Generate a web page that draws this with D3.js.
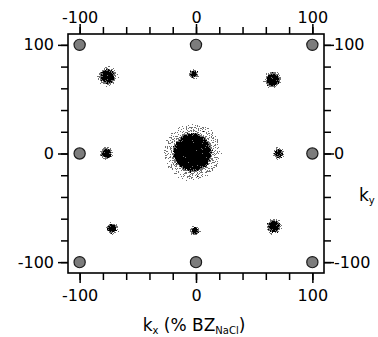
<!DOCTYPE html>
<html>
<head>
<meta charset="utf-8">
<script src="https://cdn.jsdelivr.net/npm/d3@7"></script>
<style>
  body { margin: 0; background: #fff; }
  svg { display: block; }
</style>
</head>
<body>
<div id="chart"></div>
<script>
const width = 378
const height = 337

const majorTicks = [-100, 0, 100]
const minorTicks = [-100, -80, -60, -40, -20, 0, 20, 40, 60, 80, 100]

// reference lattice points (gray circles)
const latticeKx = [-100, 0, 100, -100, 100, -100, 0, 100]
const latticeKy = [100, 100, 100, 0, 0, -100, -100, -100]

// measured intensity spots: position and core radius, all in % BZ
const spotKx = [-76, -2, 66, -77, 71, -72, -1, 67, -3]
const spotKy = [71, 73, 68, 0, 0, -69, -71, -67, 1]
const spotR = [6, 3.2, 5.5, 4.2, 3.6, 3.8, 3.2, 5, 16]

const margin = { top: 34, right: 54, bottom: 64, left: 68 }
const x = d3.scaleLinear().domain([-110, 110]).range([margin.left, width - margin.right])
const y = d3.scaleLinear().domain([-110, 110]).range([height - margin.bottom, margin.top])
const px = (r) => x(r) - x(0)

const svg = d3
  .select('#chart')
  .append('svg')
  .attr('width', width)
  .attr('height', height)
  .attr('font-family', 'DejaVu Sans, sans-serif')

const defs = svg.append('defs')
const f = defs
  .append('filter')
  .attr('id', 'speckle')
  .attr('filterUnits', 'userSpaceOnUse')
  .attr('x', 0)
  .attr('y', 0)
  .attr('width', width)
  .attr('height', height)
f.append('feGaussianBlur').attr('in', 'SourceGraphic').attr('stdDeviation', 1.5).attr('result', 'blur')
f.append('feTurbulence')
  .attr('type', 'fractalNoise')
  .attr('baseFrequency', 0.8)
  .attr('numOctaves', 2)
  .attr('seed', 7)
  .attr('result', 'noise')
f.append('feColorMatrix')
  .attr('in', 'noise')
  .attr('type', 'matrix')
  .attr('values', '0 0 0 0 0  0 0 0 0 0  0 0 0 0 0  1.6 0 0 0 -0.3')
  .attr('result', 'noiseA')
f.append('feComposite')
  .attr('in', 'blur')
  .attr('in2', 'noiseA')
  .attr('operator', 'arithmetic')
  .attr('k1', 0)
  .attr('k2', 1)
  .attr('k3', 0.7)
  .attr('k4', -0.35)
  .attr('result', 'sum')
f.append('feComponentTransfer')
  .attr('in', 'sum')
  .append('feFuncA')
  .attr('type', 'discrete')
  .attr('tableValues', '0 0 0.55 1')

const spots = spotKx.map((kx, i) => ({ kx, ky: spotKy[i], r: spotR[i] }))
const lattice = latticeKx.map((kx, i) => ({ kx, ky: latticeKy[i] }))

const spotG = svg.append('g').attr('filter', 'url(#speckle)')
spotG
  .selectAll('circle.halo')
  .data(spots)
  .join('circle')
  .attr('class', 'halo')
  .attr('cx', (d) => x(d.kx))
  .attr('cy', (d) => y(d.ky))
  .attr('r', (d) => px(d.r) * 1.6)
  .attr('fill', '#000')
  .attr('fill-opacity', 0.42)
spotG
  .selectAll('circle.core')
  .data(spots)
  .join('circle')
  .attr('class', 'core')
  .attr('cx', (d) => x(d.kx))
  .attr('cy', (d) => y(d.ky))
  .attr('r', (d) => px(d.r))
  .attr('fill', '#000')

svg
  .append('g')
  .selectAll('circle')
  .data(lattice)
  .join('circle')
  .attr('cx', (d) => x(d.kx))
  .attr('cy', (d) => y(d.ky))
  .attr('r', 5.6)
  .attr('fill', '#7c7c7c')
  .attr('stroke', '#1a1a1a')
  .attr('stroke-width', 1.2)

const fmt = (d) => String(d)
const axes = [
  { make: d3.axisTop, scale: x, at: `translate(0,${margin.top})`, pad: 1 },
  { make: d3.axisBottom, scale: x, at: `translate(0,${height - margin.bottom})`, pad: 7 },
  { make: d3.axisLeft, scale: y, at: `translate(${margin.left},0)`, pad: 4 },
  { make: d3.axisRight, scale: y, at: `translate(${width - margin.right},0)`, pad: 0 },
]

axes.forEach((a) => {
  const minor = svg
    .append('g')
    .attr('transform', a.at)
    .call(a.make(a.scale).tickValues(minorTicks).tickSize(7).tickSizeOuter(0).tickFormat(''))
  const major = svg
    .append('g')
    .attr('transform', a.at)
    .call(a.make(a.scale).tickValues(majorTicks).tickSize(10).tickSizeOuter(0).tickPadding(a.pad).tickFormat(fmt))
  ;[minor, major].forEach((g) => {
    g.select('.domain').remove()
    g.selectAll('line').attr('stroke', '#000').attr('stroke-width', 1.5)
  })
  major.selectAll('text').attr('font-size', 16).attr('fill', '#000').attr('font-family', 'DejaVu Sans, sans-serif')
})

svg
  .append('rect')
  .attr('x', x(-110))
  .attr('y', y(110))
  .attr('width', x(110) - x(-110))
  .attr('height', y(-110) - y(110))
  .attr('fill', 'none')
  .attr('stroke', '#000')
  .attr('stroke-width', 1.6)

const xTitle = svg
  .append('text')
  .attr('x', x(0) - 2)
  .attr('y', 331)
  .attr('text-anchor', 'middle')
  .attr('font-size', 17)
xTitle.append('tspan').text('k')
xTitle.append('tspan').attr('font-size', 10).attr('dy', 3).text('x')
xTitle.append('tspan').attr('dy', -3).text(' (% BZ')
xTitle.append('tspan').attr('font-size', 10).attr('dy', 3).text('NaCl')
xTitle.append('tspan').attr('dy', -3).text(')')

const yTitle = svg.append('text').attr('x', 359).attr('y', 201).attr('font-size', 17)
yTitle.append('tspan').text('k')
yTitle.append('tspan').attr('font-size', 10).attr('dy', 3).text('y')
</script>
</body>
</html>
